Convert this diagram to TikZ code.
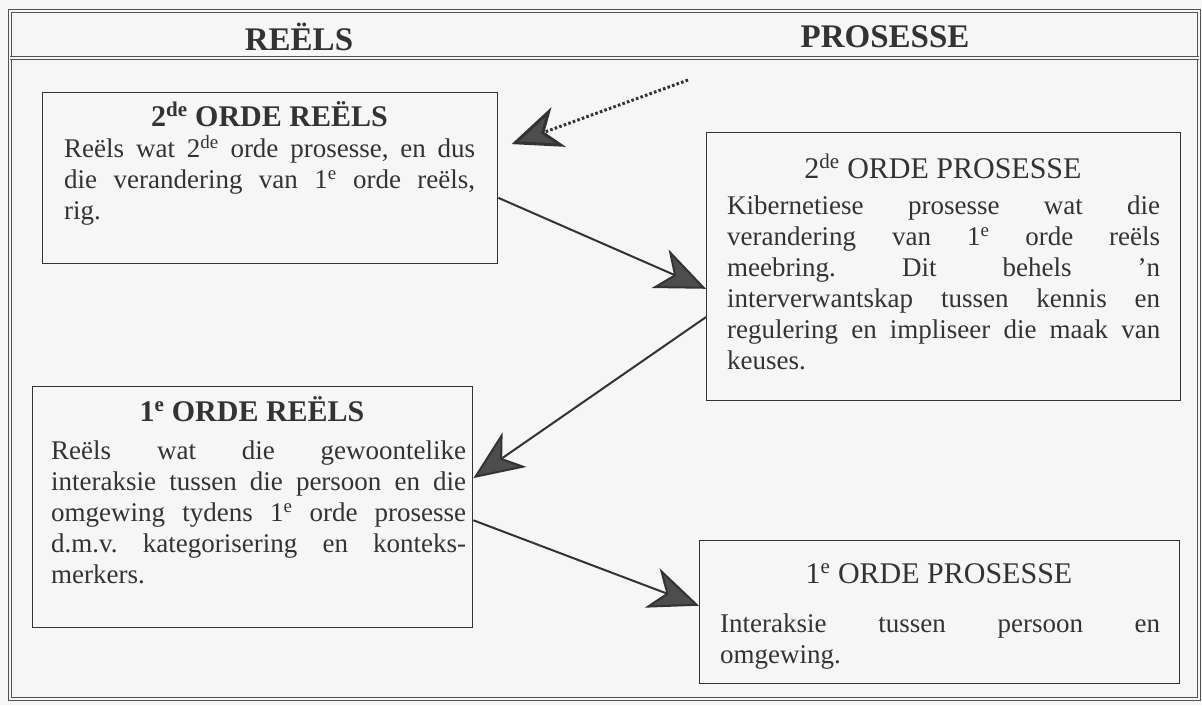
\documentclass[tikz,border=0pt]{standalone}
\usepackage{fontspec}
\setmainfont{Liberation Serif}
\usetikzlibrary{arrows.meta,calc}
\definecolor{ink}{HTML}{333333}
\definecolor{paper}{HTML}{F6F6F6}
\definecolor{tipgray}{HTML}{4D4D4D}
\tolerance=10000
\hyphenpenalty=10000
\frenchspacing
\tikzset{
  outerframe/.style={draw=ink!85, line width=0.9pt, double=paper, double distance=1.6pt},
  card/.style={draw=ink, line width=1.4pt, inner sep=0pt, anchor=north west},
  headtext/.style={inner sep=0pt, text=ink, font=\fontsize{33}{40}\selectfont\bfseries},
  titlebold/.style={anchor=base, inner sep=0pt, text=ink, font=\fontsize{30}{34}\selectfont\bfseries},
  titleplain/.style={anchor=base, inner sep=0pt, text=ink, font=\fontsize{30}{34}\selectfont},
  cardtext/.style={anchor=north west, inner sep=0pt, text=ink, align=justify,
    font=\fontsize{27}{31}\selectfont\frenchspacing},
  flow/.style={draw=ink, line width=2pt,
    -{Stealth[length=50pt, width=42pt, inset=15pt, fill=tipgray]}},
  hint/.style={flow, line width=3pt, dash pattern=on 2.6pt off 2.2pt},
}
\begin{document}
\begin{tikzpicture}[x=1pt,y=-1pt]
\useasboundingbox (0,0) rectangle (1202,705);
\fill[paper] (0,0) rectangle (1202,705);

% page frame with the heading band
\draw[outerframe] (10,11) rectangle (1199,699);
\draw[outerframe] (10,58) -- (1199,58);
\node[headtext] (hdrL) at (299,37) {REËLS};
\node[headtext] (hdrR) at (885,37) {PROSESSE};

% the four boxes
\node[card, minimum width=455pt, minimum height=171pt] (A) at (42,92) {};
\node[card, minimum width=474pt, minimum height=268pt] (B) at (706,132) {};
\node[card, minimum width=440pt, minimum height=241pt] (C) at (32,386) {};
\node[card, minimum width=480pt, minimum height=143pt] (D) at (699,540) {};

% box headings
\node[titlebold]  (Ah) at (269.5,126) {2\textsuperscript{de} ORDE REËLS};
\node[titleplain] (Bh) at (943,178)   {2\textsuperscript{de} ORDE PROSESSE};
\node[titlebold]  (Ch) at (252,421)   {1\textsuperscript{e} ORDE REËLS};
\node[titleplain] (Dh) at (939,583)   {1\textsuperscript{e} ORDE PROSESSE};

% box texts
\node[cardtext, text width=411pt] (At) at (64,135.3) {\strut Reëls wat 2\textsuperscript{de} orde prosesse, en dus\linebreak
  die verandering van 1\textsuperscript{e} orde reëls,\linebreak rig.};
\node[cardtext, text width=433pt] (Bt) at (727,192.3) {\strut Kibernetiese prosesse wat die\linebreak
  verandering van 1\textsuperscript{e} orde reëls\linebreak
  meebring. Dit behels ’n\linebreak
  interverwantskap tussen kennis en\linebreak
  regulering en impliseer die maak van\linebreak keuses.};
\node[cardtext, text width=415pt] (Ct) at (51,437.3) {\strut Reëls wat die gewoontelike\linebreak
  interaksie tussen die persoon en die\linebreak
  omgewing tydens 1\textsuperscript{e} orde prosesse\linebreak
  d.m.v. kategorisering en konteks-\linebreak merkers.};
\node[cardtext, text width=440pt] (Dt) at (720,610.3) {\strut Interaksie tussen persoon en\linebreak omgewing.};

% connectors
\coordinate (hintstart) at (688,80);
\draw[hint, shorten >=14pt] (hintstart) -- ($(A.north east)!0.33!(A.south east)$);
\draw[flow] ($(A.north east)!0.614!(A.south east)$) -- ($(B.north west)!0.582!(B.south west)$);
\draw[flow] ($(B.north west)!0.687!(B.south west)$) -- ($(C.north east)!0.38!(C.south east)$);
\draw[flow] ($(C.north east)!0.554!(C.south east)$) -- ($(D.north west)!0.455!(D.south west)$);
\end{tikzpicture}
\end{document}
